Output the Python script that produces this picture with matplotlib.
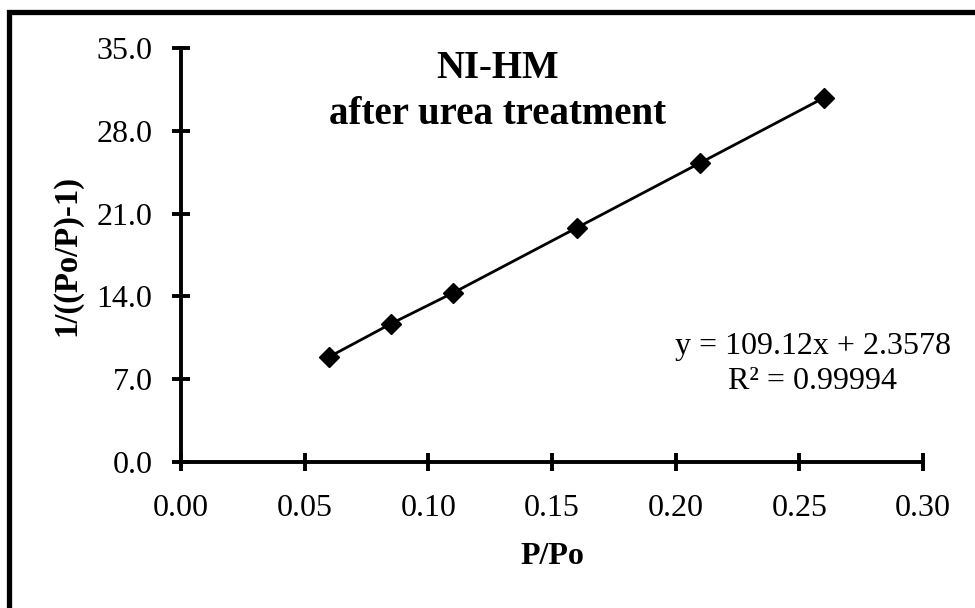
import numpy as np
import matplotlib.pyplot as plt
from matplotlib.patches import Rectangle

# datos
p_po = [0.06, 0.085, 0.11, 0.16, 0.21, 0.26]
bet_y = [8.9, 11.7, 14.3, 19.8, 25.3, 30.8]

x_ticks = [0.00, 0.05, 0.10, 0.15, 0.20, 0.25, 0.30]
y_ticks = [0.0, 7.0, 14.0, 21.0, 28.0, 35.0]

plt.rcParams['font.family'] = ['Liberation Serif', 'DejaVu Serif']

fig = plt.figure(figsize=(9.75, 6.08), dpi=100)
ax = fig.add_axes([0.1856, 0.2401, 0.7611, 0.6809])

# marco exterior (solo se ven izquierda y arriba)
fig.patches.append(Rectangle((8.5 / 975, -0.1), 1.2, 1.1 - 12 / 608,
                             transform=fig.transFigure, fill=False,
                             edgecolor='black', linewidth=3.8))

ax.plot(p_po, bet_y, color='black', linewidth=2, marker='D',
        markersize=10, markerfacecolor='black', markeredgecolor='black')

ax.set_xlim(0, 0.30)
ax.set_ylim(0, 35)
ax.set_xticks(x_ticks)
ax.set_yticks(y_ticks)
ax.set_xticklabels(['%.2f' % v for v in x_ticks])
ax.set_yticklabels(['%.1f' % v for v in y_ticks])

for s in ['top', 'right']:
    ax.spines[s].set_visible(False)
for s in ['left', 'bottom']:
    ax.spines[s].set_linewidth(2.8)

ax.tick_params(direction='inout', length=13, width=2.8, labelsize=23)
ax.tick_params(axis='x', pad=16.5)
ax.tick_params(axis='y', pad=14)

ax.set_xlabel('P/Po', fontsize=23, fontweight='bold', labelpad=14)
ax.set_ylabel('1/((Po/P)-1)', fontsize=23.5, fontweight='bold', labelpad=10)

ax.text(0.426, 0.896, 'NI-HM\nafter urea treatment', transform=ax.transAxes,
        ha='center', va='center', fontsize=28, fontweight='bold', linespacing=1.32)
ax.text(0.2555, 8.3, 'y = 109.12x + 2.3578\nR² = 0.99994', ha='center', va='center',
        fontsize=23, linespacing=1.28)

fig.savefig('out.png', dpi=100)
